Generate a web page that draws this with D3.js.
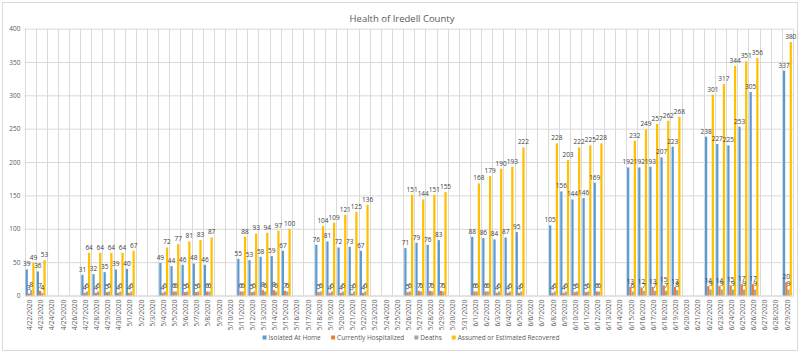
<!DOCTYPE html>
<html>
<head>
<meta charset="utf-8">
<script src="https://cdn.jsdelivr.net/npm/d3@7"></script>
<style>
  body { margin: 0; background: #fff; }
  svg { font-family: "Open Sans", "Liberation Sans", sans-serif; }
  .grid line { stroke: #d9d9d9; stroke-width: 1; }
  .grid path { display: none; }
</style>
</head>
<body>
<svg id="health-svg" width="800" height="354"></svg>
<script>
const n = null;

const dates = [
  "4/22/2020", "4/23/2020", "4/24/2020", "4/25/2020", "4/26/2020", "4/27/2020", "4/28/2020", "4/29/2020", "4/30/2020",
  "5/1/2020", "5/2/2020", "5/3/2020", "5/4/2020", "5/5/2020", "5/6/2020", "5/7/2020", "5/8/2020", "5/9/2020", "5/10/2020",
  "5/11/2020", "5/12/2020", "5/13/2020", "5/14/2020", "5/15/2020", "5/16/2020", "5/17/2020", "5/18/2020", "5/19/2020",
  "5/20/2020", "5/21/2020", "5/22/2020", "5/23/2020", "5/24/2020", "5/25/2020", "5/26/2020", "5/27/2020", "5/28/2020",
  "5/29/2020", "5/30/2020", "5/31/2020", "6/1/2020", "6/2/2020", "6/3/2020", "6/4/2020", "6/5/2020", "6/6/2020",
  "6/7/2020", "6/8/2020", "6/9/2020", "6/10/2020", "6/11/2020", "6/12/2020", "6/13/2020", "6/14/2020", "6/15/2020",
  "6/16/2020", "6/17/2020", "6/18/2020", "6/19/2020", "6/20/2020", "6/21/2020", "6/22/2020", "6/23/2020", "6/24/2020",
  "6/25/2020", "6/26/2020", "6/27/2020", "6/28/2020", "6/29/2020"
];

const isolatedAtHome = [
  39, 36, n, n, n, 31, 32, 35, 39, 40,
  n, n, 49, 44, 46, 48, 46, n, n, 55,
  53, 58, 59, 67, n, n, 76, 81, 72, 73,
  67, n, n, n, 71, 79, 76, 83, n, n,
  88, 86, 84, 87, 95, n, n, 105, 156, 144,
  146, 169, n, n, 192, 192, 193, 207, 223, n,
  n, 238, 227, 225, 253, 305, n, n, 337
];

const hospitalized = [
  3, 7, n, n, n, 4, 4, 5, 4, 4,
  n, n, 4, 6, 5, 5, 6, n, n, 6,
  5, 8, 8, 7, n, n, 5, 4, 4, 3,
  4, n, n, n, 5, 7, 7, 7, n, n,
  6, 6, 4, 4, 4, n, n, 4, 4, 5,
  5, 6, n, n, 13, 12, 13, 15, 13, n,
  n, 14, 14, 15, 17, 17, n, n, 20
];

const deaths = [
  8, 4, n, n, n, 6, 6, 6, 6, 6,
  n, n, 6, 6, 6, 6, 6, n, n, 6,
  6, 6, 6, 6, n, n, 6, 6, 6, 6,
  6, n, n, n, 6, 6, 6, 6, n, n,
  6, 6, 6, 6, 6, n, n, 6, 6, 6,
  6, 6, n, n, 6, 7, 7, 7, 8, n,
  n, 9, 9, 9, 9, 9, n, n, 9
];

const recovered = [
  49, 53, n, n, n, 64, 64, 64, 64, 67,
  n, n, 72, 77, 81, 83, 87, n, n, 88,
  93, 94, 97, 100, n, n, 104, 109, 121, 125,
  136, n, n, n, 151, 144, 151, 155, n, n,
  168, 179, 190, 193, 222, n, n, 228, 203, 222,
  225, 228, n, n, 232, 249, 257, 262, 268, n,
  n, 301, 317, 344, 351, 356, n, n, 380
];

const seriesNames = ["Isolated At Home", "Currently Hospitalized", "Deaths", "Assumed or Estimated Recovered"];
const seriesColors = ["#5b9bd5", "#ed7d31", "#a5a5a5", "#ffc000"];
const yTicks = [0, 50, 100, 150, 200, 250, 300, 350, 400];

const drawHealthChart = () => {
  const svg = d3.select("#health-svg");
  const svgWidth = 800;
  const svgHeight = 354;

  // Plot Area
  const plotLeft = 24.5;
  const plotRight = 793;
  const plotTop = 28.6;
  const plotBottom = 295.5;

  // Outer Border
  svg
    .append("rect")
    .attr("x", 2.5)
    .attr("y", 2.5)
    .attr("width", svgWidth - 5)
    .attr("height", svgHeight - 6)
    .style("fill", "#fff")
    .style("stroke", "#d9d9d9");

  // Title
  svg
    .append("text")
    .attr("x", 402)
    .attr("y", 22)
    .attr("text-anchor", "middle")
    .style("font-size", "9.5px")
    .style("fill", "#595959")
    .text("Health of Iredell County");

  // Scales
  const xScale = d3
    .scaleBand()
    .domain(dates)
    .range([plotLeft, plotRight])
    .paddingInner(0.2)
    .paddingOuter(0.1);

  const seriesScale = d3
    .scaleBand()
    .domain(d3.range(seriesNames.length))
    .range([0, xScale.bandwidth()]);

  const yScale = d3
    .scaleLinear()
    .domain([0, 400])
    .range([plotBottom, plotTop]);

  // Horizontal Grid
  svg
    .append("g")
    .attr("class", "grid")
    .attr("transform", `translate(${plotLeft},0)`)
    .call(
      d3.axisLeft(yScale)
        .tickValues(yTicks)
        .tickSize(-(plotRight - plotLeft))
        .tickFormat("")
    );

  // Vertical Grid (Category Boundaries)
  const step = xScale.step();
  const boundaryX = (i) => xScale(dates[i]) - (step - xScale.bandwidth()) / 2;
  svg
    .append("g")
    .attr("class", "grid")
    .selectAll("line")
    .data(d3.range(dates.length + 1))
    .enter()
    .append("line")
    .attr("x1", (i) => Math.round(i < dates.length ? boundaryX(i) : plotRight) + 0.5)
    .attr("x2", (i) => Math.round(i < dates.length ? boundaryX(i) : plotRight) + 0.5)
    .attr("y1", plotTop)
    .attr("y2", plotBottom);

  // Y Axis Labels
  const yAxis = svg
    .append("g")
    .attr("transform", `translate(${plotLeft - 4},0)`)
    .call(d3.axisLeft(yScale).tickValues(yTicks).tickSize(0).tickPadding(0));
  yAxis.select(".domain").remove();
  yAxis
    .selectAll("text")
    .style("font-size", "6.5px")
    .style("fill", "#595959")
    .style("font-family", "'Open Sans', sans-serif");

  // X Axis
  const xAxis = svg
    .append("g")
    .attr("transform", `translate(0,${plotBottom})`)
    .call(d3.axisBottom(xScale).tickSize(0).tickPadding(0));
  xAxis.select(".domain").style("stroke", "#d9d9d9");
  xAxis
    .selectAll("text")
    .attr("transform", "rotate(-90)")
    .attr("x", -4)
    .attr("y", 0)
    .attr("dy", "0.32em")
    .attr("text-anchor", "end")
    .style("font-size", "6.5px")
    .style("fill", "#595959")
    .style("font-family", "'Open Sans', sans-serif");

  // Bars
  const allSeries = [isolatedAtHome, hospitalized, deaths, recovered];
  const barData = [];
  dates.forEach((d, i) => {
    allSeries.forEach((s, k) => {
      if (s[i] !== null) barData.push({ date: d, series: k, value: s[i] });
    });
  });

  svg
    .append("g")
    .selectAll("rect")
    .data(barData)
    .enter()
    .append("rect")
    .attr("x", (d) => xScale(d.date) + seriesScale(d.series))
    .attr("y", (d) => yScale(d.value))
    .attr("width", seriesScale.bandwidth())
    .attr("height", (d) => yScale(0) - yScale(d.value))
    .style("fill", (d) => seriesColors[d.series]);

  // Value Labels
  svg
    .append("g")
    .selectAll("text")
    .data(barData)
    .enter()
    .append("text")
    .attr("x", (d) => xScale(d.date) + seriesScale(d.series) + seriesScale.bandwidth() / 2)
    .attr("y", (d) => yScale(d.value) - 3)
    .attr("text-anchor", "middle")
    .style("font-size", "6.5px")
    .style("fill", "#404040")
    .text((d) => d.value);

  // Legend
  const legend = svg.append("g").attr("id", "health-legend");
  let legendX = 0;
  seriesNames.forEach((name, k) => {
    const item = legend.append("g").attr("transform", `translate(${legendX},0)`);
    item
      .append("rect")
      .attr("x", 0)
      .attr("y", -4.5)
      .attr("width", 4)
      .attr("height", 4)
      .style("fill", seriesColors[k]);
    const label = item
      .append("text")
      .attr("x", 6)
      .attr("y", 0)
      .style("font-size", "6.5px")
      .style("fill", "#595959")
      .text(name);
    legendX += 6 + label.node().getBBox().width + 10;
  });
  const legendWidth = legendX - 10;
  legend.attr("transform", `translate(${411 - legendWidth / 2},340)`);
};

drawHealthChart();
</script>
</body>
</html>
